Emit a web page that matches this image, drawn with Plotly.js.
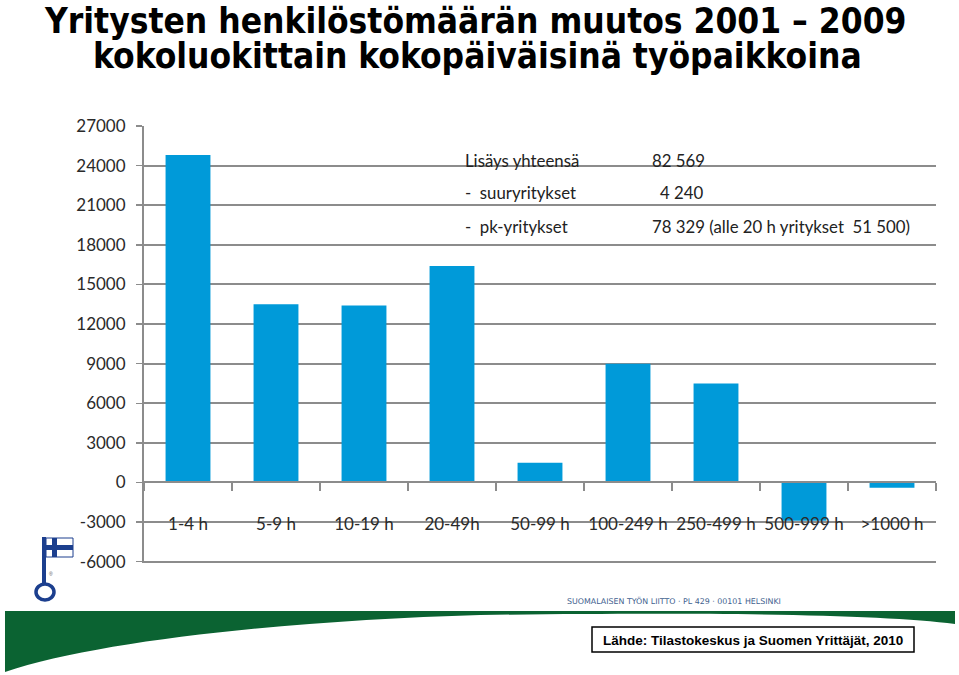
<!DOCTYPE html>
<html>
<head>
<meta charset="utf-8">
<script src="https://cdn.plot.ly/plotly-3.0.1.min.js"></script>
<style>html,body{margin:0;padding:0;background:#fff;}#chart{width:959px;height:675px;}</style>
</head>
<body>
<div id="chart"></div>
<script>
// ---- data ----
var categories = ["1-4 h", "5-9 h", "10-19 h", "20-49h", "50-99 h", "100-249 h", "250-499 h", "500-999 h", ">1000 h"];
var changes = [24800, 13500, 13400, 16400, 1500, 9000, 7500, -2900, -400];
var yTickVals = [-6000, -3000, 0, 3000, 6000, 9000, 12000, 15000, 18000, 21000, 24000, 27000];
var yTickText = ["-6000", "-3000", "0", "3000", "6000", "9000", "12000", "15000", "18000", "21000", "24000", "27000"];
var titleLines = ["Yritysten henkilöstömäärän muutos 2001 – 2009", "kokoluokittain kokopäiväisinä työpaikkoina"];
var summaryLabels = ["Lisäys yhteensä", "-  suuryritykset", "-  pk-yritykset"];
var summaryValues = ["82 569", "4 240", "78 329 (alle 20 h yritykset  51 500)"];
var footerText = "SUOMALAISEN TYÖN LIITTO · PL 429 · 00101 HELSINKI";
var sourceText = "Lähde: Tilastokeskus ja Suomen Yrittäjät, 2010";

// ---- geometry helpers (pixel -> paper) ----
var W = 959, H = 675;
var M = {l: 144, r: 23, t: 126, b: 112};
var PW = W - M.l - M.r, PH = H - M.t - M.b;
var yRange = [-6100, 27000];
function px(x) { return (x - M.l) / PW; }
function py(y) { return (H - M.b - y) / PH; }
function pathPx(cmds) {
  return cmds.map(function (c) {
    if (typeof c === "string") return c;
    return px(c[0]).toFixed(5) + "," + py(c[1]).toFixed(5);
  }).join(" ");
}

var gridColor = "#8c8c8c";
var tickFont = {family: "Lato, 'Open Sans', sans-serif", size: 17, color: "#2a2a2a"};

var trace = {
  type: "bar",
  x: categories,
  y: changes,
  marker: {color: "#009ad9"},
  hoverinfo: "x+y"
};

var annotations = [];
var rowsY = [160, 193, 226];
var valX = [650, 658, 650];
var sumFont = {family: "Lato, sans-serif", size: 16.8, color: "#222"};
for (var i = 0; i < summaryLabels.length; i++) {
  annotations.push({xref: "paper", yref: "paper", x: px(463), y: py(rowsY[i]), xanchor: "left", yanchor: "middle",
    text: summaryLabels[i], showarrow: false, font: sumFont});
  annotations.push({xref: "paper", yref: "paper", x: px(valX[i]), y: py(rowsY[i]), xanchor: "left", yanchor: "middle",
    text: summaryValues[i], showarrow: false, font: sumFont});
}
annotations.push({xref: "paper", yref: "paper", x: px(565), y: py(601), xanchor: "left", yanchor: "middle",
  text: footerText, showarrow: false, font: {family: "'DejaVu Sans', Verdana, sans-serif", size: 7.9, color: "#3f5f8f"}});
annotations.push({xref: "paper", yref: "paper", x: px(753), y: py(640), xanchor: "center", yanchor: "middle",
  text: sourceText, showarrow: false, font: {family: "'Liberation Sans', Arial, sans-serif", size: 13.5, color: "#000", weight: "bold"}});
annotations.push({xref: "paper", yref: "paper", x: px(51), y: py(574), xanchor: "center", yanchor: "middle",
  text: "®", showarrow: false, font: {family: "Arial, sans-serif", size: 5, color: "#555"}});
// title lines
var titleFont = {family: "'DejaVu Sans Condensed', 'DejaVu Sans', sans-serif", size: 35, color: "#000", weight: "bold"};
annotations.push({xref: "paper", yref: "paper", x: px(475), y: py(21), xanchor: "center", yanchor: "middle",
  text: titleLines[0], showarrow: false, font: titleFont});
annotations.push({xref: "paper", yref: "paper", x: px(477), y: py(56), xanchor: "center", yanchor: "middle",
  text: titleLines[1], showarrow: false, font: titleFont});

var flagBlue = "#1c3f8e";
var shapes = [
  // green swoosh
  {type: "path", xref: "paper", yref: "paper", layer: "above",
   path: pathPx(["M", [5, 611], "L", [955, 611], "L", [955, 624], "C", [880, 614], [700, 612], [480, 615], "C", [300, 620], [100, 640], [5, 672], "Z"]),
   fillcolor: "#0b6332", line: {width: 0}},
  // source box
  {type: "rect", xref: "paper", yref: "paper", x0: px(592), x1: px(914), y0: py(627), y1: py(652),
   line: {color: "#000", width: 1.5}, fillcolor: "rgba(0,0,0,0)"},
  // logo: flag
  {type: "rect", xref: "paper", yref: "paper", x0: px(46), x1: px(73), y0: py(538), y1: py(557),
   line: {color: flagBlue, width: 1}, fillcolor: "#ffffff"},
  {type: "rect", xref: "paper", yref: "paper", x0: px(52), x1: px(57), y0: py(538), y1: py(557),
   line: {width: 0}, fillcolor: flagBlue},
  {type: "rect", xref: "paper", yref: "paper", x0: px(46), x1: px(73), y0: py(545), y1: py(550),
   line: {width: 0}, fillcolor: flagBlue},
  // pole
  {type: "line", xref: "paper", yref: "paper", x0: px(44), x1: px(44), y0: py(537), y1: py(585),
   line: {color: flagBlue, width: 4}},
  // ring
  {type: "circle", xref: "paper", yref: "paper", x0: px(36), x1: px(54), y0: py(584), y1: py(600),
   line: {color: flagBlue, width: 3.5}, fillcolor: "rgba(0,0,0,0)"}
];

var layout = {
  width: W, height: H,
  margin: M,
  paper_bgcolor: "#fff", plot_bgcolor: "#fff",
  showlegend: false,
  bargap: 0.49,
  xaxis: {
    type: "category",
    anchor: "free", position: -yRange[0] / (yRange[1] - yRange[0]),
    showline: true, linecolor: gridColor, linewidth: 2,
    ticks: "outside", tickson: "boundaries", ticklen: 8, tickcolor: gridColor, tickwidth: 1.5,
    showgrid: false, zeroline: false,
    tickangle: 0,
    tickfont: tickFont, ticklabelstandoff: 26,
    fixedrange: true
  },
  yaxis: {
    range: yRange,
    tickvals: yTickVals, ticktext: yTickText,
    showgrid: true, gridcolor: gridColor, gridwidth: 2,
    showline: true, linecolor: gridColor, linewidth: 2,
    ticks: "outside", ticklen: 6, tickcolor: gridColor, tickwidth: 1.5,
    zeroline: false,
    tickfont: tickFont, ticklabelstandoff: 7,
    fixedrange: true
  },
  annotations: annotations,
  shapes: shapes
};

Plotly.newPlot("chart", [trace], layout, {displayModeBar: false, staticPlot: true});
</script>
</body>
</html>
